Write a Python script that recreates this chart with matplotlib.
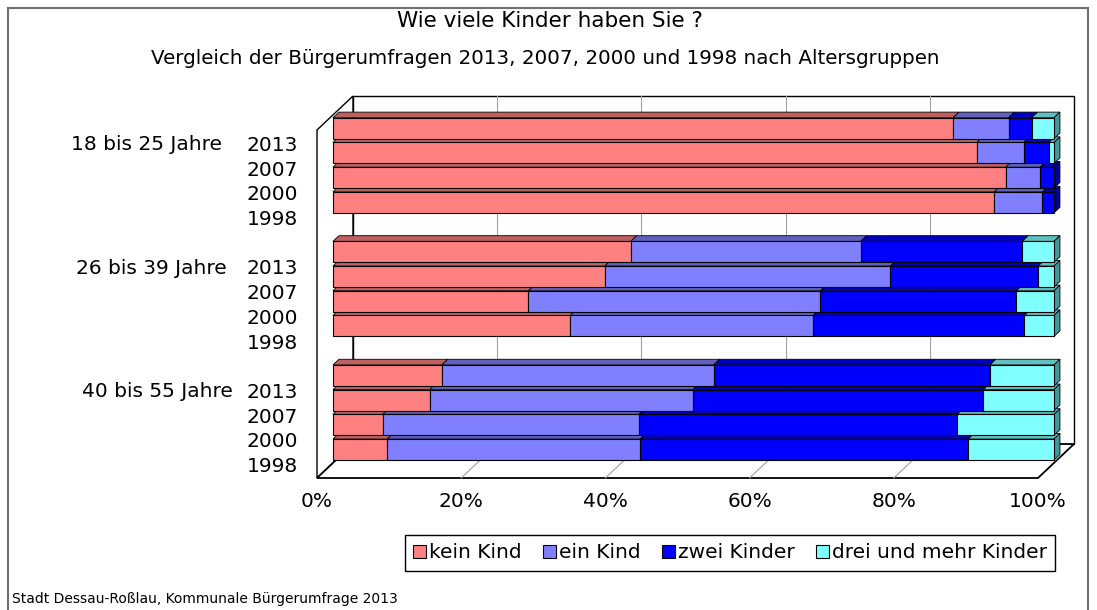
import numpy as np
import matplotlib.pyplot as plt
import matplotlib.transforms as mtransforms
from matplotlib.patches import Polygon, Rectangle, Patch

# Daten (Anteile in %), Reihenfolge: je Altersgruppe 2013, 2007, 2000, 1998
gruppen = ['18 bis 25 Jahre', '26 bis 39 Jahre', '40 bis 55 Jahre']
jahre = ['2013', '2007', '2000', '1998']
kategorien = ['kein Kind', 'ein Kind', 'zwei Kinder', 'drei und mehr Kinder']

kein_kind = [86.0, 89.3, 93.3, 91.7, 41.3, 37.7, 27.1, 32.9, 15.1, 13.4, 6.9, 7.5]
ein_kind = [7.7, 6.5, 4.8, 6.7, 31.9, 39.6, 40.5, 33.7, 37.7, 36.5, 35.5, 35.1]
zwei_kinder = [3.2, 3.5, 1.9, 1.6, 22.4, 20.5, 27.2, 29.3, 38.3, 40.3, 44.2, 45.5]
drei_mehr = [3.1, 0.7, 0.0, 0.0, 4.4, 2.2, 5.2, 4.1, 8.9, 9.8, 13.4, 11.9]

farben = ['#FF8080', '#8080FF', '#0000FF', '#80FFFF']
farben_oben = ['#BF6060', '#6060BF', '#0000BF', '#60BFBF']
farben_seite = ['#994D4D', '#4D4D99', '#000099', '#3F9999']

# 3D-Geometrie (Tiefe in Dateneinheiten)
DX, DY = 4.99, 1.375
D_VORNE, D_HINTEN = 0.444, 0.61
BAR_H = 0.85
Y_OBEN, Y_UNTEN = -0.54, 13.54

fig = plt.figure(figsize=(10.97, 6.10), dpi=100)
ax = fig.add_axes([317 / 1097, 132 / 610, 721 / 1097, 348 / 610])
ax.set_xlim(0, 100)
ax.set_ylim(Y_UNTEN, Y_OBEN)
ax.patch.set_visible(False)
for s in ax.spines.values():
    s.set_visible(False)


def ebene(d):
    return mtransforms.Affine2D().translate(d * DX, -d * DY) + ax.transData


def p(x, y, d):
    return (x + d * DX, y - d * DY)


# Wände
rueck = Rectangle((0, Y_OBEN), 100, Y_UNTEN - Y_OBEN, transform=ebene(1),
                  facecolor='white', edgecolor='black', lw=1, zorder=1, clip_on=False)
ax.add_patch(rueck)
links = Polygon([p(0, Y_OBEN, 0), p(0, Y_OBEN, 1), p(0, Y_UNTEN, 1), p(0, Y_UNTEN, 0)],
                closed=True, facecolor='white', edgecolor='black', lw=1, zorder=1, clip_on=False)
ax.add_patch(links)
boden = Polygon([p(0, Y_UNTEN, 0), p(100, Y_UNTEN, 0), p(100, Y_UNTEN, 1), p(0, Y_UNTEN, 1)],
                closed=True, facecolor='white', edgecolor='black', lw=1.3, zorder=1, clip_on=False)
ax.add_patch(boden)

# Gitterlinien
for gx in range(20, 100, 20):
    ax.plot([gx, gx], [Y_OBEN, Y_UNTEN], color='#A0A0A0', lw=0.8,
            transform=ebene(1), zorder=2, clip_on=False)
    ax.plot(*zip(p(gx, Y_UNTEN, 0), p(gx, Y_UNTEN, 1)), color='#A0A0A0', lw=0.8,
            zorder=2, clip_on=False)

# Balken
werte = np.array([kein_kind, ein_kind, zwei_kinder, drei_mehr]).T
slots = [g * 5 + j for g in range(len(gruppen)) for j in range(len(jahre))]
tiefe = D_HINTEN - D_VORNE
for i, s in enumerate(slots):
    z = 10 + (20 - s) * 3
    links_x = 0.0
    letzte = max(k for k in range(4) if werte[i, k] > 0)
    yt, yb = s - BAR_H / 2, s + BAR_H / 2
    for k, v in enumerate(werte[i]):
        if v <= 0:
            continue
        r = links_x + v
        ax.barh(s, v, left=links_x, height=BAR_H, color=farben[k], edgecolor='black',
                lw=0.8, transform=ebene(D_VORNE), zorder=z + 1, clip_on=False)
        oben = Polygon([(links_x, yt), (r, yt), (r + tiefe * DX, yt - tiefe * DY),
                        (links_x + tiefe * DX, yt - tiefe * DY)], closed=True,
                       facecolor=farben_oben[k], edgecolor='black', lw=0.6,
                       transform=ebene(D_VORNE), zorder=z, clip_on=False)
        ax.add_patch(oben)
        if k == letzte:
            seite = Polygon([(r, yt), (r + tiefe * DX, yt - tiefe * DY),
                             (r + tiefe * DX, yb - tiefe * DY), (r, yb)], closed=True,
                            facecolor=farben_seite[k], edgecolor='black', lw=0.6,
                            transform=ebene(D_VORNE), zorder=z, clip_on=False)
            ax.add_patch(seite)
        links_x = r

# Achsenbeschriftung
ax.set_xticks(range(0, 101, 20))
ax.set_xticklabels([f'{t}%' for t in range(0, 101, 20)], fontsize=14.5)
ax.set_yticks(slots)
ax.set_yticklabels(jahre * len(gruppen), fontsize=14.5)
ax.tick_params(axis='x', length=0, pad=10)
ax.tick_params(axis='y', length=0, pad=13.5)
for g, name in enumerate(gruppen):
    ax.text([-0.1318, -0.1248, -0.1165][g], g * 5 + 0.05, name,
            transform=ax.get_yaxis_transform(), ha='right', va='center', fontsize=14.5)

# Titel
fig.text(0.5014, 1 - 21 / 610, 'Wie viele Kinder haben Sie ?', ha='center', va='center',
         fontsize=15.5)
fig.text(0.497, 1 - 58 / 610,
         'Vergleich der Bürgerumfragen 2013, 2007, 2000 und 1998 nach Altersgruppen',
         ha='center', va='center', fontsize=14.3)
fig.text(12 / 1097, 1 - 599 / 610, 'Stadt Dessau-Roßlau, Kommunale Bürgerumfrage 2013',
         ha='left', va='center', fontsize=10)

# Legende
handles = [Patch(facecolor=c, edgecolor='black', lw=0.8) for c in farben]
leg = fig.legend(handles, kategorien, ncol=4, loc='center right',
                 bbox_to_anchor=(1055 / 1097, 1 - 553 / 610), fontsize=14.5,
                 frameon=True, fancybox=False, edgecolor='black', framealpha=1,
                 handlelength=0.65, handleheight=0.65, handletextpad=0.15,
                 columnspacing=1.05, borderpad=0.4, borderaxespad=0)
leg.get_frame().set_linewidth(1)

# Rahmen
fig.patches.append(Rectangle((8 / 1097, -0.05), 1080 / 1097, 1 - 8 / 610 + 0.05,
                             transform=fig.transFigure, fill=False,
                             edgecolor='#707070', lw=1.5))

fig.savefig('out.png', dpi=100)
